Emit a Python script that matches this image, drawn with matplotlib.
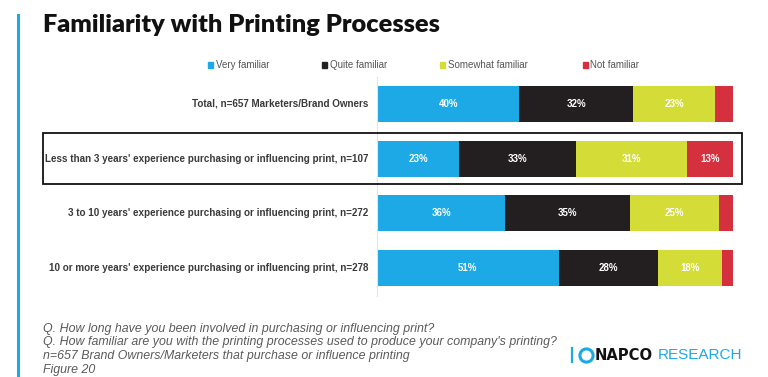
import matplotlib.pyplot as plt
from matplotlib.patches import Rectangle
import numpy as np

W, H = 768, 377

groups = [
    "Total, n=657 Marketers/Brand Owners",
    "Less than 3 years' experience purchasing or influencing print, n=107",
    "3 to 10 years' experience purchasing or influencing print, n=272",
    "10 or more years' experience purchasing or influencing print, n=278",
]
series = ["Very familiar", "Quite familiar", "Somewhat familiar", "Not familiar"]
very = [40, 23, 36, 51]
quite = [32, 33, 35, 28]
somewhat = [23, 31, 25, 18]
not_fam = [5, 13, 4, 3]
colors = ["#1ca9e6", "#231f20", "#d4dc37", "#d5303e"]

footer = [
    "Q. How long have you been involved in purchasing or influencing print?",
    "Q. How familiar are you with the printing processes used to produce your company's printing?",
    "n=657 Brand Owners/Marketers that purchase or influence printing",
    "Figure 20",
]


def fx(x):
    return x / W


def fy(y):
    return 1 - y / H


fig = plt.figure(figsize=(W / 100, H / 100), dpi=100)
fig.patch.set_facecolor("white")

# bar area: 0..100% spans px 377..733, rows centred at 104,159,213,268
ax = fig.add_axes([fx(377), fy(295.5), 356 / W, 219 / H])
ypos = np.arange(len(groups))
left = np.zeros(len(groups))
for vals, col in zip([very, quite, somewhat, not_fam], colors):
    vals = np.array(vals, dtype=float)
    ax.barh(ypos, vals, left=left, height=0.66, color=col, edgecolor="none")
    for y, l, v in zip(ypos, left, vals):
        if v >= 10:
            ax.text(l + v / 2, y, f"{int(v)}%", ha="center", va="center",
                    color="white", fontsize=7, fontweight="bold",
                    family="Liberation Sans")
    left += vals

ax.set_xlim(0, 100)
ax.set_ylim(len(groups) - 0.5, -0.5)
ax.set_xticks([])
ax.set_yticks([])
for s in ["top", "right", "bottom"]:
    ax.spines[s].set_visible(False)
ax.spines["left"].set_color("#e4e4e4")
ax.spines["left"].set_linewidth(0.8)

# category labels
for y, g in zip(ypos, groups):
    ax.text(-2.4, y, g, ha="right", va="center", fontsize=7.1,
            fontweight="bold", color="#3a3a3a", family="Liberation Sans")

# highlight box round the second row
fig.patches.append(Rectangle((fx(43), fy(184)), (742 - 43) / W, 51 / H,
                             transform=fig.transFigure, fill=False,
                             edgecolor="#111111", linewidth=1.3))

# legend
leg_x = [208, 322, 440, 583]
for x, name, col in zip(leg_x, series, colors):
    fig.patches.append(Rectangle((fx(x), fy(67.5)), 5 / W, 5 / H,
                                 transform=fig.transFigure, color=col))
    fig.text(fx(x + 7.5), fy(65), name, ha="left", va="center", fontsize=7,
             color="#555555", family="Liberation Sans")

# left accent line and title
fig.add_artist(plt.Line2D([fx(17.5), fx(17.5)], [fy(15), fy(377)],
                          transform=fig.transFigure, color="#1ca9e6",
                          linewidth=2.2))
fig.text(fx(43), fy(32), "Familiarity with Printing Processes", ha="left",
         va="baseline", fontsize=18.3, fontweight="heavy", color="#111111",
         family="Lato")

# footer notes
for i, line in enumerate(footer):
    fig.text(fx(43), fy(329 + i * 13.5), line, ha="left", va="center",
             fontsize=8.9, style="italic", color="#5a5a5a",
             family="Liberation Sans")

# logo
fig.add_artist(plt.Line2D([fx(572), fx(572)], [fy(348), fy(362)],
                          transform=fig.transFigure, color="#1ca9e6",
                          linewidth=1.6))
fig.add_artist(plt.Line2D([fx(586)], [fy(355)], transform=fig.transFigure,
                          marker="o", markersize=9.5, markerfacecolor="none",
                          markeredgecolor="#1ca9e6", markeredgewidth=2.2))
fig.text(fx(594.5), fy(355), "NAPCO", ha="left", va="center", fontsize=10.6,
         fontweight="bold", color="#111111", family="DejaVu Sans")
fig.text(fx(658), fy(355), "RESEARCH", ha="left", va="center", fontsize=11,
         color="#1ca9e6", family="Liberation Sans")

fig.savefig("out.png", dpi=100, facecolor="white")
